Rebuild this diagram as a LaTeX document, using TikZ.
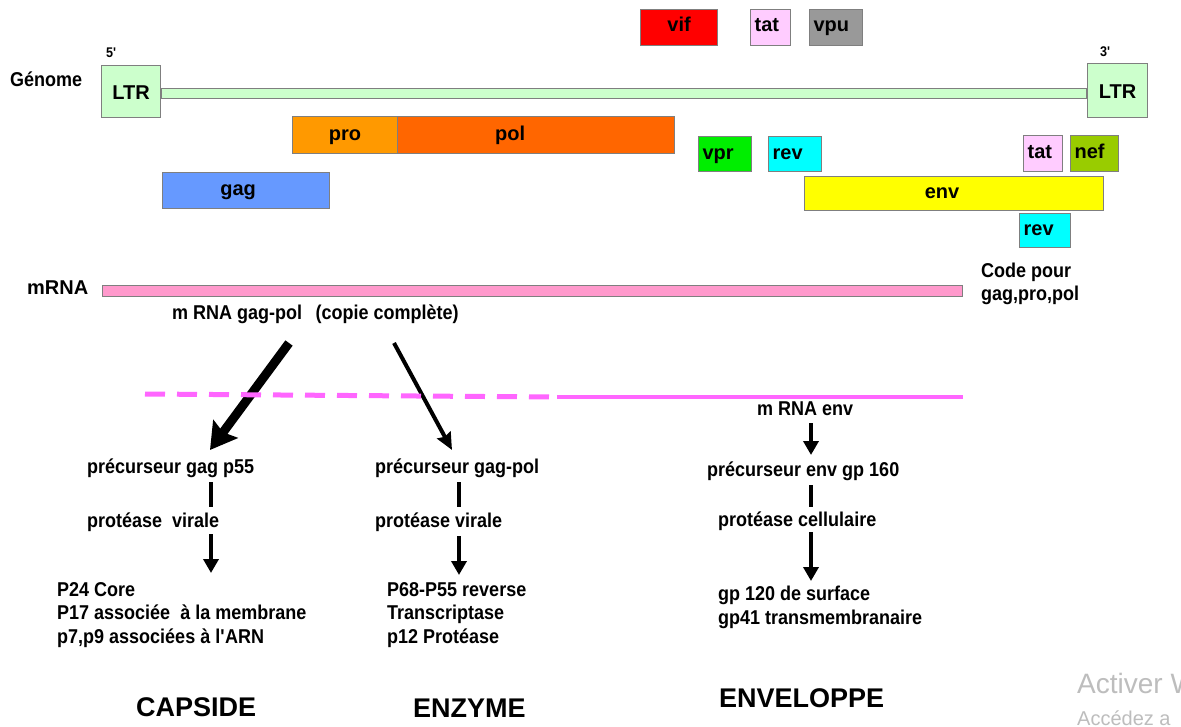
\documentclass[tikz,border=0pt]{standalone}
\usepackage{fontspec}
\setmainfont{Liberation Sans}
\newfontfamily\narrowfont{Liberation Sans}[FakeStretch=0.9]
\usetikzlibrary{arrows.meta,calc}
\definecolor{boxgray}{HTML}{7F7F7F}
\definecolor{ltrgreen}{HTML}{CCFFCC}
\definecolor{vifred}{HTML}{FF0000}
\definecolor{tatpink}{HTML}{FFCCFF}
\definecolor{vpugray}{HTML}{999999}
\definecolor{proorange}{HTML}{FF9900}
\definecolor{polorange}{HTML}{FF6600}
\definecolor{gagblue}{HTML}{6699FF}
\definecolor{vprgreen}{HTML}{00EE00}
\definecolor{revcyan}{HTML}{00FFFF}
\definecolor{nefgreen}{HTML}{99CC00}
\definecolor{envyellow}{HTML}{FFFF00}
\definecolor{mrnapink}{HTML}{FF99CC}
\definecolor{linemagenta}{HTML}{FF66FF}
\definecolor{wmgray}{HTML}{BDBDBD}
\begin{document}
\begin{tikzpicture}[x=1pt,y=-1pt,
  gene/.style={draw=boxgray, line width=1.2pt, inner sep=0pt, anchor=north west,
    text height=14pt, text depth=4pt,
    font=\bfseries\fontsize{20}{20}\selectfont},
  geneL/.style={gene, align=left, inner xsep=4pt},
  ltrbox/.style={gene, text height=16pt, text depth=0pt},
  note/.style={anchor=base west, inner sep=0pt, align=left,
    font=\narrowfont\bfseries\fontsize{20}{23.5}\selectfont},
  tiny/.style={anchor=base west, inner sep=0pt,
    font=\narrowfont\bfseries\fontsize{14}{14}\selectfont},
  title/.style={anchor=base west, inner sep=0pt,
    font=\bfseries\fontsize{27}{27}\selectfont},
  bigarrow/.style={line width=9pt, -{Stealth[length=26pt,width=30pt,inset=4pt]}},
  thinarrow/.style={line width=4pt, -{Stealth[length=17pt,width=15pt,inset=2pt]}},
  downarrow/.style={line width=4pt, -{Triangle[length=14pt,width=15pt]}},
  barline/.style={line width=4pt},
  pinkdash/.style={draw=linemagenta, line width=5pt, dash pattern=on 20pt off 12pt},
  pinkline/.style={draw=linemagenta, line width=3.5pt}
]
\fill[white] (0,0) rectangle (1181,727);
\useasboundingbox (0,0) rectangle (1181,727);

% genome
\node[note] (genome) at (10,87) {Génome};
\node[tiny] (five) at (106,58) {5\textquotesingle};
\node[tiny] (three) at (1100,57) {3\textquotesingle};
\node[ltrbox, fill=ltrgreen, minimum width=59, minimum height=52] (ltrL) at (101,65) {LTR};
\node[ltrbox, fill=ltrgreen, minimum width=60, minimum height=54] (ltrR) at (1087,63) {LTR};
\path[draw=boxgray, fill=ltrgreen, line width=1.2pt]
  ($(ltrL.east)+(0,-3)$) rectangle ($(ltrR.west)+(0,8)$);

% top genes
\node[gene, fill=vifred, minimum width=77, minimum height=36, text depth=6pt] (vif) at (640,9) {vif};
\node[geneL, fill=tatpink, text width=32, minimum height=36, text depth=6pt] (tat1) at (750,9) {tat};
\node[geneL, fill=vpugray, text width=45, minimum height=36, text depth=6pt] (vpu) at (809,9) {vpu};

% second row
\node[gene, fill=proorange, minimum width=105, minimum height=37] (pro) at (292,116) {pro};
\node[gene, fill=polorange, minimum width=277, minimum height=37] (pol) at (397,116) {pol\hspace*{52pt}};
\node[geneL, fill=vprgreen, text width=45, minimum height=35] (vpr) at (698,136) {vpr};
\node[geneL, fill=revcyan, text width=45, minimum height=35] (rev1) at (768,136) {rev};
\node[geneL, fill=tatpink, text width=31, minimum height=36] (tat2) at (1023,135) {tat};
\node[geneL, fill=nefgreen, text width=40, minimum height=36] (nef) at (1070,135) {nef};

% third row
\node[gene, fill=gagblue, minimum width=167, minimum height=36] (gag) at (162,172) {gag\hspace*{16pt}};
\node[gene, fill=envyellow, minimum width=299, minimum height=34] (env) at (804,176) {env\hspace*{24pt}};
\node[geneL, fill=revcyan, text width=43, minimum height=34] (rev2) at (1019,213) {rev};

% mRNA
\node[anchor=base west, inner sep=0pt, font=\bfseries\fontsize{20}{20}\selectfont] (mrnalab) at (27,295) {mRNA};
\node[draw=boxgray, fill=mrnapink, line width=1.2pt, inner sep=0pt, anchor=north west,
  minimum width=860, minimum height=11] (mrna) at (102,285) {};
\node[note] (code) at (981,301) {Code pour\\gag,pro,pol};
\node[note] (mrnagp) at (172,320) {m RNA gag-pol\ \ \,(copie complète)};

% big arrows
\coordinate (a1s) at (289,343);
\coordinate (a1e) at (210,450);
\coordinate (a2s) at (394,343);
\coordinate (a2e) at (452,450);
\draw[bigarrow] (a1s) -- (a1e);
\draw[thinarrow] (a2s) -- (a2e);

% pink separator
\coordinate (d1) at (145,394);
\coordinate (d2) at (552,397);
\coordinate (s1) at (557,397);
\coordinate (s2) at (963,397);
\draw[pinkdash] (d1) -- (d2);
\draw[pinkline] (s1) -- (s2);

% left column (capside)
\node[note] (pgag) at (87,473) {précurseur gag p55};
\node[note] (protL) at (87,527) {protéase\ \ virale};
\node[note] (resL) at (57,643) {P24 Core\\P17 associée\ \ à la membrane\\p7,p9 associées à l\textquotesingle ARN};
\node[title] (capside) at (136,716) {CAPSIDE};
\coordinate (colL) at (211,0);
\draw[barline] ($(pgag.base -| colL)+(0,9)$) -- ($(protL.base -| colL)+(0,-20)$);
\draw[downarrow] ($(protL.base -| colL)+(0,7)$) -- ($(resL.base -| colL)+(0,-70)$);

% middle column (enzyme)
\node[note] (pgagpol) at (375,473) {précurseur gag-pol};
\node[note] (protM) at (375,527) {protéase virale};
\node[note] (resM) at (387,643) {P68-P55 reverse\\Transcriptase\\p12 Protéase};
\node[title] (enzyme) at (413,717) {ENZYME};
\coordinate (colM) at (459,0);
\draw[barline] ($(pgagpol.base -| colM)+(0,9)$) -- ($(protM.base -| colM)+(0,-20)$);
\draw[downarrow] ($(protM.base -| colM)+(0,9)$) -- ($(resM.base -| colM)+(0,-68)$);

% right column (enveloppe)
\node[note] (mrnaenv) at (757,415) {m RNA env};
\node[note] (penv) at (707,476) {précurseur env gp 160};
\node[note] (protR) at (718,526) {protéase cellulaire};
\node[note] (resR) at (718,624) {gp 120 de surface\\gp41 transmembranaire};
\node[title] (envlp) at (719,707) {ENVELOPPE};
\coordinate (colR) at (811,0);
\draw[downarrow] ($(mrnaenv.base -| colR)+(0,8)$) -- ($(penv.base -| colR)+(0,-21)$);
\draw[barline] ($(penv.base -| colR)+(0,9)$) -- ($(protR.base -| colR)+(0,-19)$);
\draw[downarrow] ($(protR.base -| colR)+(0,6)$) -- ($(resR.base -| colR)+(0,-43)$);

% watermark
\node[anchor=base west, inner sep=0pt, text=wmgray, font=\fontsize{28}{28}\selectfont] (wm1) at (1077,693) {Activer W};
\node[anchor=base west, inner sep=0pt, text=wmgray, font=\fontsize{20}{20}\selectfont] (wm2) at (1077,725) {Accédez a};
\end{tikzpicture}
\end{document}
